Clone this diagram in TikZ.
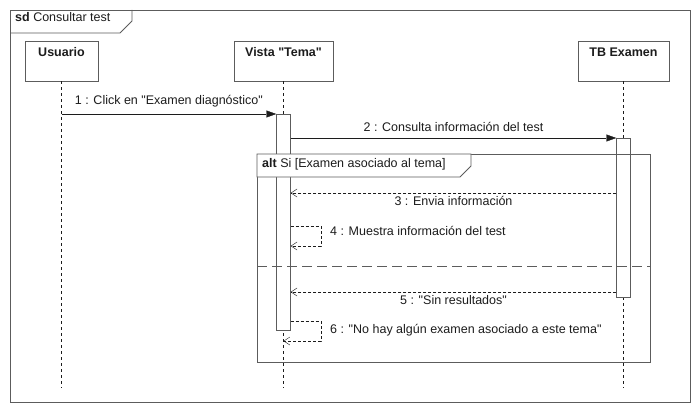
\documentclass[tikz,border=0pt]{standalone}
\usepackage{fontspec}
\setmainfont{Liberation Sans}
\usetikzlibrary{arrows.meta,positioning,calc}
\definecolor{Frame}{HTML}{5C5C5C}
\definecolor{Ink}{HTML}{1C1C1C}
\begin{document}
\begin{tikzpicture}[
  x=1pt,y=-1pt,
  every node/.style={font=\fontsize{12.5}{15}\selectfont,text=Ink},
  head/.style={draw=Frame,fill=white,font=\fontsize{12.5}{15}\selectfont\bfseries,text height=12pt,text depth=22pt,inner ysep=3pt,inner xsep=0pt},
  bar/.style={draw=Frame,fill=white,minimum width=14pt,inner sep=0pt},
  frame/.style={draw=Frame,line width=0.8pt},
  life/.style={draw=Ink,dash pattern=on 3pt off 3pt},
  call/.style={-{Triangle[length=10pt,width=7pt]},draw=Ink},
  reply/.style={-{Straight Barb[length=6pt,width=8pt]},draw=Ink,dash pattern=on 3pt off 2pt},
  lbl/.style={inner sep=0pt,anchor=base west}
]
\useasboundingbox (0,0) rectangle (700,412);
\draw[frame] (10,10) rectangle (690,402);
\draw[frame] (10,33) -- (120,33) -- (132,21) -- (132,10);
\node[lbl] (sd) at (15,22) {\textbf{sd} Consultar test};
\node[head,minimum width=73pt,minimum height=40pt,anchor=north] (usr) at (61.5,41) {Usuario};
\node[head,minimum width=99pt,minimum height=40pt,anchor=north] (vista) at (283.5,41) {Vista \textquotedbl Tema\textquotedbl};
\node[head,minimum width=91pt,minimum height=40pt,anchor=north] (tbex) at (623.5,41) {TB Examen};
\draw[life] (usr) -- (usr.south |- 0,388);
\draw[life] (vista) -- (vista.south |- 0,388);
\draw[life] (tbex) -- (tbex.south |- 0,388);
\node[bar,minimum height=216pt,anchor=north] (vbar) at (vista.south |- 0,114) {};
\node[bar,minimum height=159pt,anchor=north] (tbar) at (tbex.south |- 0,138) {};
\draw[frame] (257,154) rectangle (650,362);
\draw[frame,fill=white] (257,154) -- (471,154) -- (471,166) -- (460,177) -- (257,177) -- cycle;
\node[lbl] (alt) at (262,167) {\textbf{alt} Si [Examen asociado al tema]};
\draw[frame,dash pattern=on 10pt off 5pt] (257,266) -- (650,266);
\draw[call] (usr.south |- vbar.north) -- node[midway,above,yshift=3pt] (m1) {1 : Click en \textquotedbl Examen diagnóstico\textquotedbl} (vbar.north west);
\draw[call] (vbar.east |- tbar.north) -- node[midway,above,yshift=3pt] (m2) {2 : Consulta información del test} (tbar.north west);
\draw[reply] (tbar.west |- 0,193) -- node[midway,below] (m3) {3 : Envia información} (vbar.east |- 0,193);
\draw[reply] (vbar.east |- 0,226) -- ++(30,0) |- (vbar.east |- 0,246);
\node[lbl] (m4) at (330,235) {4 : Muestra información del test};
\draw[reply] (tbar.west |- 0,292) -- node[midway,below] (m5) {5 : \textquotedbl Sin resultados\textquotedbl} (vbar.east |- 0,292);
\draw[reply] (vbar.east |- 0,321) -- ++(30,0) |- (vista.south |- 0,341);
\node[lbl] (m6) at (330,333) {6 : \textquotedbl No hay algún examen asociado a este tema\textquotedbl};
\end{tikzpicture}
\end{document}
